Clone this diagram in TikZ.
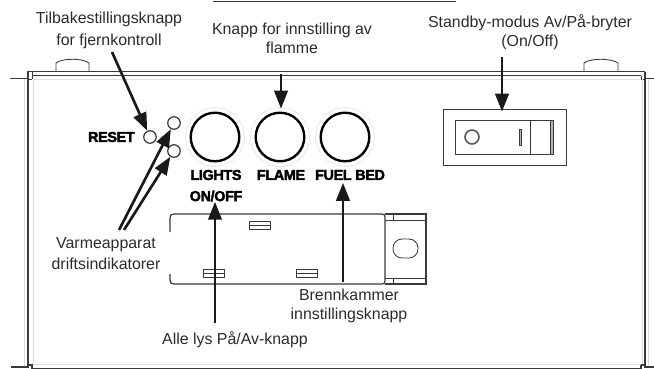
\documentclass[tikz,border=0pt]{standalone}
\usepackage{fontspec}
\setmainfont{Liberation Sans}
\newfontfamily\panelfont[BoldFeatures={FakeBold=2.5}, LetterSpace=-2.5]{Liberation Sans}
\usetikzlibrary{arrows.meta}
\definecolor{inktext}{HTML}{2B2B2B}
\definecolor{inkline}{HTML}{3A3A3A}

\begin{document}
\begin{tikzpicture}[x=0.02cm, y=-0.02cm]
  \tikzset{
    callout/.style={font=\fontsize{9.05}{11}\selectfont, text=inktext, align=center, inner sep=0pt},
    paneltext/.style={font=\panelfont\bfseries\fontsize{8.2}{9}\selectfont, inner sep=0pt},
    led/.style={circle, draw=inkline, line width=0.7pt, fill=white, minimum size=0.25cm, inner sep=0pt},
    knob/.style={circle, draw=black!10, line width=0.4pt, fill=white, minimum size=1.18cm, inner sep=0pt},
    slot/.style={draw=inkline, line width=0.5pt},
    pointer/.style={-{Triangle[length=0.36cm, width=0.27cm]}, line width=1.5pt, draw=black!90}
  }
  \useasboundingbox (0,0) rectangle (654,369);

  % Cabinet
  \draw[line width=0.5pt, inkline] (213,1) -- (456,1);
  \draw[line width=0.5pt, inkline] (56,71) -- (56,63) .. controls (62,58) and (83,58) .. (89,63) -- (89,71);
  \draw[line width=0.5pt, inkline] (584,71) -- (584,63) .. controls (590,58) and (611,58) .. (618,63) -- (618,71);
  \draw[line width=0.5pt, inkline] (27,71.5) -- (645,71.5);
  \draw[line width=0.9pt, inkline] (32,75.5) -- (641,75.5);
  \draw[line width=0.5pt, black!12] (33,79) -- (640,79);
  \draw[line width=0.5pt, inkline] (10,78) -- (28,78) (645,78) -- (654,78);
  \draw[line width=0.5pt, inkline] (32,71.5) -- (32,79) (28,79) -- (32,79) (641,75.5) -- (641,79) -- (645,79);
  \draw[line width=0.4pt, black!15] (24,79) -- (24,367) (33,79) -- (33,364) (642,79) -- (642,364) (648,79) -- (648,367);
  \draw[line width=0.7pt, inkline] (28,71.5) -- (28,367) (645,71.5) -- (645,367);
  \draw[line width=0.6pt, inkline] (11,367) -- (28,367) -- (28,365) -- (32,365) -- (32,368.5) -- (641,368.5) -- (641,365) -- (645,365) -- (645,367) -- (654,367);
  \draw[line width=0.5pt, black!12] (33,364) -- (641,364);

  % Rocker switch
  \node[draw=inkline, line width=0.5pt, minimum width=2.46cm, minimum height=1.12cm, inner sep=0pt] (rocker) at (504.5,137) {};
  \draw[line width=0.5pt, inkline] (455,120) rectangle (553,154);
  \draw[line width=0.5pt, inkline] (530,120) -- (530,154);
  \draw[line width=0.4pt, inkline, fill=black!30] (550,120) rectangle (553,154);
  \draw[line width=0.9pt, black!65] (472,137) circle (7);
  \draw[line width=0.4pt, inkline, fill=black!30] (519,129) rectangle (521.5,145);

  % Fuel bed tray
  \draw[line width=0.7pt, inkline] (170,232) -- (170,218) .. controls (170,215) and (171,214) .. (174,214) -- (382,214) .. controls (384,214) and (385,215) .. (385,217) -- (385,281) .. controls (385,283) and (384,284) .. (382,284) -- (174,284) .. controls (171,284) and (170,283) .. (170,280) -- (170,274);
  \draw[line width=0.7pt, inkline] (385,214) -- (426,214) -- (426,284) -- (385,284);
  \draw[line width=0.5pt, inkline] (385,220) -- (426,220) (385,278) -- (426,278);
  \draw[line width=0.5pt, inkline] (393,214) -- (393,220) (393,278) -- (393,284);
  \draw[line width=0.5pt, inkline, rounded corners=0.18cm] (393,239) rectangle (418,258);
  \foreach \sx/\sy in {249/221, 203/269, 296/269} {
    \draw[slot] (\sx,\sy) rectangle ++(21,8.5);
    \draw[slot] (\sx,\sy+4.2) -- ++(21,0);
  }

  % Buttons
  \node[led] (reset) at (150,137) {};
  \node[led] (ledtop) at (174,123) {}; \node[led] (ledlow) at (174,151) {};
  \node[knob] (lights) at (215,137) {}; \node[knob] (flame) at (280,137) {}; \node[knob] (fuel) at (345,137) {};
  \draw[line width=1.35pt, black] (215,137) circle (24.3); \draw[line width=1.35pt, black] (280,137) circle (24.3); \draw[line width=1.35pt, black] (345,137) circle (24.3);

  % Panel print
  \node[paneltext, anchor=east] (resettext) at (135,137) {RESET};
  \node[paneltext] (lightstext) at (216,175) {LIGHTS};
  \node[paneltext] (onofftext) at (216,196) {ON/OFF};
  \node[paneltext] (flametext) at (281,175) {FLAME};
  \node[paneltext] (fueltext) at (350,175) {FUEL BED};

  % Callouts
  \node[callout] (resetnote) at (109,30) {Tilbakestillingsknapp\\[1.6pt]for fjernkontroll};
  \node[callout] (flamenote) at (292,38.5) {Knapp for innstilling av\\flamme};
  \node[callout] (rockernote) at (530,32) {Standby-modus Av/På-bryter\\(On/Off)};
  \node[callout] (lednote) at (106,254) {Varmeapparat\\[1pt]driftsindikatorer};
  \node[callout] (lightsnote) at (235,340) {Alle lys På/Av-knapp};
  \node[callout] (fuelnote) at (349,306) {Brennkammer\\innstillingsknapp};

  % Arrows
  \coordinate (resetstart) at (112,52); \coordinate (flamestart) at (281,74); \coordinate (rockerstart) at (502,57);
  \coordinate (ledstarta) at (119,230); \coordinate (ledstartb) at (124,230);
  \coordinate (lightsstart) at (215,323); \coordinate (fuelstart) at (343,282);
  \draw[pointer] (resetstart) -- (reset);
  \draw[pointer] (ledstarta) -- (ledtop);
  \draw[pointer] (ledstartb) -- (ledlow);
  \draw[pointer, shorten >=-0.03cm] (flamestart) -- (flame.north -| flamestart);
  \draw[pointer, shorten >=-0.06cm] (rockerstart) -- (rocker.north -| rockerstart);
  \draw[pointer] (lightsstart) -- (onofftext.south -| lightsstart);
  \draw[pointer, shorten >=0.05cm] (fuelstart) -- (fueltext.south -| fuelstart);
\end{tikzpicture}
\end{document}
